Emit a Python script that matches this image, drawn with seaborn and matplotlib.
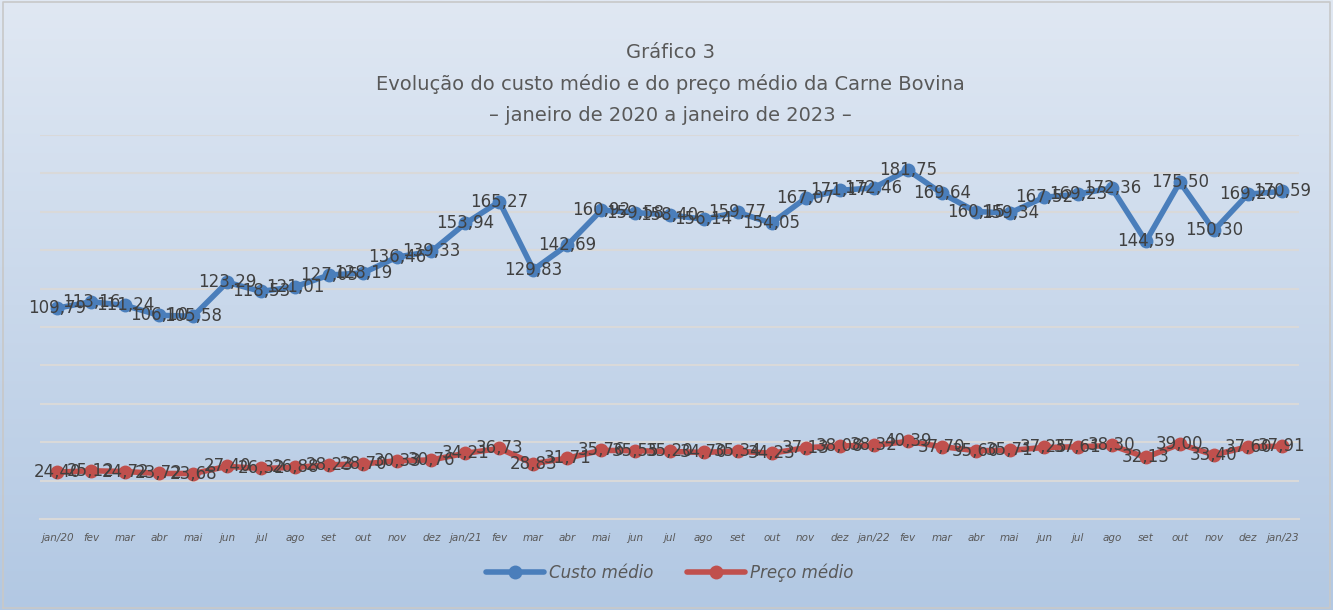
import numpy as np
import pandas as pd
import matplotlib
matplotlib.use("Agg")
import matplotlib.pyplot as plt
import seaborn as sns

meses = ["jan/20", "fev", "mar", "abr", "mai", "jun", "jul", "ago", "set", "out", "nov", "dez",
         "jan/21", "fev", "mar", "abr", "mai", "jun", "jul", "ago", "set", "out", "nov", "dez",
         "jan/22", "fev", "mar", "abr", "mai", "jun", "jul", "ago", "set", "out", "nov", "dez",
         "jan/23"]

custo_medio = [109.79, 113.16, 111.24, 106.10, 105.58, 123.29, 118.53, 121.01, 127.05, 128.19,
               136.46, 139.33, 153.94, 165.27, 129.83, 142.69, 160.92, 159.58, 158.40, 156.14,
               159.77, 154.05, 167.07, 171.17, 172.46, 181.75, 169.64, 160.15, 159.34, 167.52,
               169.23, 172.36, 144.59, 175.50, 150.30, 169.20, 170.59]

preco_medio = [24.40, 25.12, 24.72, 23.72, 23.68, 27.40, 26.32, 26.88, 28.23, 28.70,
               30.33, 30.76, 34.21, 36.73, 28.83, 31.71, 35.76, 35.55, 35.20, 34.70,
               35.34, 34.23, 37.13, 38.08, 38.32, 40.39, 37.70, 35.60, 35.71, 37.25,
               37.61, 38.30, 32.13, 39.00, 33.40, 37.60, 37.91]

series_nomes = ["Custo médio", "Preço médio"]
cores = ["#4a7ebb", "#c0504d"]

titulo = "Gráfico 3\nEvolução do custo médio e do preço médio da Carne Bovina\n– janeiro de 2020 a janeiro de 2023 –"

n = len(meses)
df = pd.DataFrame({
    "idx": list(range(n)) * 2,
    "valor": custo_medio + preco_medio,
    "serie": [series_nomes[0]] * n + [series_nomes[1]] * n,
})

sns.set_theme(style="white")
plt.rcParams["font.family"] = ["DejaVu Sans"]

W, H, DPI = 1333, 610, 100
fig = plt.figure(figsize=(W / DPI, H / DPI), dpi=DPI)

# gradient background
bg = fig.add_axes([0, 0, 1, 1], zorder=-10)
top = np.array([224, 232, 243]) / 255
bot = np.array([178, 200, 227]) / 255
t = np.linspace(0, 1, 256)[:, None]
grad = (top[None, :] * (1 - t) + bot[None, :] * t)[:, None, :]
bg.imshow(grad, aspect="auto", extent=[0, 1, 0, 1], origin="upper")
bg.plot([0.002, 0.998, 0.998, 0.002, 0.002], [0.003, 0.003, 0.997, 0.997, 0.003],
        color="#c8c8c8", lw=1.2, transform=bg.transAxes)
bg.set_xlim(0, 1); bg.set_ylim(0, 1)
bg.axis("off")

left, right = 40 / W, 1299 / W
bottom_px, top_px = 519, 135
ax = fig.add_axes([left, 1 - bottom_px / H, right - left, (bottom_px - top_px) / H])
ax.set_facecolor("none")

sns.lineplot(data=df, x="idx", y="valor", hue="serie", palette=cores, marker="o",
             markersize=10, markeredgewidth=0, linewidth=4, ax=ax, legend=True, zorder=3)

ax.set_xlim(-0.5, n - 0.5)
ax.set_ylim(0, 200)
ax.set_yticks(np.arange(0, 201, 20))
ax.set_yticklabels([])
ax.tick_params(axis="y", length=0)
ax.grid(axis="y", color="#d9d9d9", lw=1.5)
ax.set_axisbelow(True)
for s in ["left", "right", "top"]:
    ax.spines[s].set_visible(False)
ax.spines["bottom"].set_color("#d9d9d9")
ax.spines["bottom"].set_linewidth(1.5)
ax.set_xticks(range(n))
ax.set_xticklabels(meses, fontsize=7.5, color="#595959", style="italic")
ax.tick_params(axis="x", length=0, pad=10)
ax.set_xlabel("")
ax.set_ylabel("")

def fmt(v):
    return f"{v:.2f}".replace(".", ",")

for serie in (custo_medio, preco_medio):
    for i, v in enumerate(serie):
        ax.text(i, v, fmt(v), ha="center", va="center", fontsize=12,
                color="#404040", zorder=5)

handles, labels = ax.get_legend_handles_labels()
ax.legend(handles, labels, loc="center", bbox_to_anchor=(0.5, (1 - 573 / H - (1 - bottom_px / H)) / ((bottom_px - top_px) / H)),
          ncol=2, frameon=False, fontsize=12, labelcolor="#595959",
          handlelength=3.5, columnspacing=2.0, handletextpad=0.3)
for txt in ax.get_legend().get_texts():
    txt.set_style("italic")

fig.text(670 / W, 1 - 84 / H, titulo, ha="center", va="center", fontsize=14,
         color="#595959", linespacing=1.75)

fig.savefig("out.png", dpi=DPI)
